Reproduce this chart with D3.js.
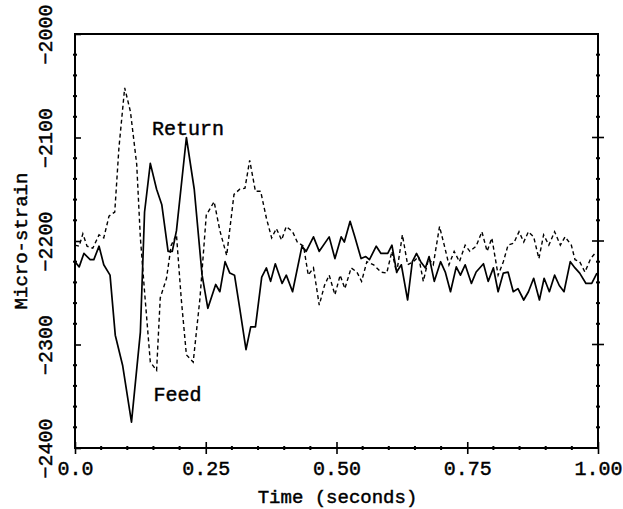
<!DOCTYPE html>
<html>
<head>
<meta charset="utf-8">
<script src="https://cdn.jsdelivr.net/npm/d3@7"></script>
<style>
  html, body { margin: 0; padding: 0; background: #fff; }
  svg text { font-family: "Liberation Mono", "DejaVu Sans Mono", monospace; fill: #000; stroke: #000; stroke-width: 0.45px; }
</style>
</head>
<body>
<div id="chart"></div>
<script>
// Strain records (time in seconds, micro-strain)
const feedTime = [0, 0.008, 0.017, 0.029, 0.036, 0.046, 0.055, 0.067, 0.077, 0.091, 0.108, 0.125, 0.133, 0.144, 0.156, 0.166, 0.178, 0.186, 0.194, 0.213, 0.228, 0.243, 0.254, 0.269, 0.277, 0.287, 0.296, 0.305, 0.315, 0.327, 0.336, 0.345, 0.357, 0.366, 0.374, 0.383, 0.396, 0.404, 0.416, 0.434, 0.442, 0.456, 0.467, 0.486, 0.497, 0.509, 0.515, 0.526, 0.535, 0.547, 0.556, 0.563, 0.576, 0.585, 0.598, 0.606, 0.615, 0.624, 0.636, 0.645, 0.653, 0.661, 0.670, 0.677, 0.687, 0.699, 0.708, 0.718, 0.729, 0.737, 0.746, 0.758, 0.767, 0.781, 0.790, 0.800, 0.809, 0.819, 0.828, 0.838, 0.847, 0.858, 0.867, 0.877, 0.888, 0.897, 0.907, 0.917, 0.926, 0.935, 0.947, 0.956, 0.965, 0.977, 0.988, 0.998];
const feedStrain = [-2220, -2225, -2212, -2218, -2218, -2205, -2223, -2233, -2291, -2320, -2375, -2288, -2172, -2125, -2150, -2165, -2210, -2210, -2190, -2100, -2150, -2233, -2265, -2242, -2249, -2220, -2231, -2233, -2265, -2305, -2283, -2283, -2235, -2226, -2239, -2222, -2241, -2233, -2249, -2205, -2210, -2196, -2210, -2196, -2217, -2196, -2201, -2181, -2196, -2217, -2215, -2218, -2205, -2212, -2212, -2204, -2230, -2223, -2257, -2220, -2212, -2220, -2226, -2215, -2239, -2220, -2230, -2249, -2225, -2233, -2223, -2241, -2230, -2222, -2239, -2226, -2249, -2231, -2230, -2249, -2246, -2257, -2249, -2236, -2257, -2236, -2249, -2233, -2243, -2249, -2220, -2226, -2231, -2241, -2241, -2231];

const returnTime = [0, 0.008, 0.015, 0.023, 0.034, 0.046, 0.055, 0.065, 0.076, 0.084, 0.095, 0.106, 0.118, 0.125, 0.133, 0.144, 0.156, 0.163, 0.175, 0.184, 0.194, 0.203, 0.213, 0.226, 0.239, 0.251, 0.266, 0.277, 0.290, 0.304, 0.315, 0.325, 0.334, 0.345, 0.355, 0.366, 0.376, 0.385, 0.395, 0.404, 0.416, 0.425, 0.437, 0.446, 0.456, 0.467, 0.477, 0.486, 0.497, 0.507, 0.516, 0.528, 0.539, 0.548, 0.558, 0.571, 0.585, 0.596, 0.606, 0.615, 0.626, 0.636, 0.647, 0.657, 0.666, 0.676, 0.685, 0.697, 0.706, 0.715, 0.725, 0.735, 0.746, 0.755, 0.767, 0.778, 0.788, 0.797, 0.809, 0.819, 0.828, 0.839, 0.849, 0.858, 0.867, 0.877, 0.887, 0.896, 0.906, 0.917, 0.928, 0.937, 0.949, 0.956, 0.965, 0.975, 0.986, 0.994];
const returnStrain = [-2204, -2205, -2193, -2205, -2207, -2194, -2197, -2176, -2172, -2110, -2052, -2075, -2126, -2197, -2249, -2317, -2325, -2255, -2236, -2204, -2194, -2255, -2310, -2317, -2255, -2175, -2162, -2190, -2214, -2155, -2150, -2149, -2122, -2152, -2152, -2178, -2197, -2188, -2199, -2186, -2191, -2201, -2205, -2233, -2226, -2262, -2243, -2233, -2252, -2233, -2246, -2226, -2230, -2239, -2220, -2223, -2230, -2231, -2210, -2231, -2194, -2223, -2220, -2215, -2239, -2217, -2223, -2186, -2204, -2223, -2210, -2220, -2204, -2210, -2205, -2191, -2210, -2197, -2233, -2220, -2204, -2202, -2191, -2201, -2191, -2196, -2217, -2194, -2204, -2191, -2204, -2196, -2204, -2218, -2220, -2230, -2217, -2212];

const xTicks = [0, 0.25, 0.5, 0.75, 1.0];
const xTickLabels = ["0.0", "0.25", "0.50", "0.75", "1.00"];
const yTicks = [-2400, -2300, -2200, -2100, -2000];

const width = 623, height = 509;
const margin = { top: 34, right: 25, bottom: 61, left: 75 };
const fontSize = 19;

const svg = d3.select('#chart').append('svg')
    .attr('width', width)
    .attr('height', height);

const x = d3.scaleLinear().domain([0, 1]).range([margin.left, width - margin.right]);
const y = d3.scaleLinear().domain([-2400, -2000]).range([height - margin.bottom, margin.top]);

// Minor tick positions
const xMinor = d3.range(0, 1.0001, 0.05).filter(v => !xTicks.some(t => Math.abs(t - v) < 1e-6));
const yMinor = d3.range(-2400, -1999, 20).filter(v => v % 100 !== 0);

// Frame
svg.append('rect')
    .attr('x', x(0)).attr('y', y(-2000))
    .attr('width', x(1) - x(0)).attr('height', y(-2400) - y(-2000))
    .attr('fill', 'none').attr('stroke', '#000').attr('stroke-width', 2);

// Bottom axis
const gx = svg.append('g')
    .attr('transform', `translate(0,${y(-2400)})`)
    .call(d3.axisBottom(x).tickValues(xTicks).tickFormat((d, i) => xTickLabels[i]).tickSizeInner(6).tickSizeOuter(0).tickPadding(7));
gx.select('.domain').remove();
gx.selectAll('.tick line').attr('y1', -6).attr('stroke-width', 1.6);
gx.selectAll('.tick text').attr('font-size', fontSize + 1).attr('font-family', null);
gx.append('g').selectAll('line').data(xMinor).join('line')
    .attr('x1', d => x(d)).attr('x2', d => x(d))
    .attr('y1', -2).attr('y2', 2)
    .attr('stroke', '#000').attr('stroke-width', 2);

// Left axis
const gy = svg.append('g')
    .attr('transform', `translate(${x(0)},0)`)
    .call(d3.axisLeft(y).tickValues(yTicks).tickFormat(d3.format('d')).tickSizeInner(6).tickSizeOuter(0).tickPadding(0));
gy.select('.domain').remove();
gy.selectAll('.tick line').attr('x2', 6).attr('stroke-width', 1.6);
gy.selectAll('.tick text')
    .attr('font-size', fontSize + 1)
    .attr('font-family', null)
    .attr('text-anchor', 'middle')
    .attr('x', 0).attr('dy', 0)
    .attr('transform', 'translate(-23,0) rotate(-90)')
    .text(d => '\u2212' + Math.abs(d));
gy.append('g').selectAll('line').data(yMinor).join('line')
    .attr('y1', d => y(d)).attr('y2', d => y(d))
    .attr('x1', -2).attr('x2', 2)
    .attr('stroke', '#000').attr('stroke-width', 2);

// Right axis ticks
const gr = svg.append('g').attr('transform', `translate(${x(1)},0)`);
gr.selectAll('line.major').data(yTicks.slice(1, 4)).join('line')
    .attr('class', 'major')
    .attr('y1', d => y(d)).attr('y2', d => y(d))
    .attr('x1', -6).attr('x2', 6)
    .attr('stroke', '#000').attr('stroke-width', 1.6);
gr.selectAll('line.minor').data(yMinor).join('line')
    .attr('class', 'minor')
    .attr('y1', d => y(d)).attr('y2', d => y(d))
    .attr('x1', -2).attr('x2', 2)
    .attr('stroke', '#000').attr('stroke-width', 2);

// Axis titles
svg.append('text')
    .attr('x', (x(0) + x(1)) / 2 + 1).attr('y', 503)
    .attr('text-anchor', 'middle').attr('font-size', fontSize)
    .text('Time (seconds)');
svg.append('text')
    .attr('transform', `translate(27,${(y(-2000) + y(-2400)) / 2}) rotate(-90)`)
    .attr('text-anchor', 'middle').attr('font-size', fontSize)
    .text('Micro-strain');

// Series
const line = d3.line().x(d => x(d[0])).y(d => y(d[1]));
const feed = feedTime.map((t, i) => [t, feedStrain[i]]);
const ret = returnTime.map((t, i) => [t, returnStrain[i]]);

svg.append('path').datum(ret)
    .attr('d', line)
    .attr('fill', 'none').attr('stroke', '#000')
    .attr('stroke-width', 1.4).attr('stroke-dasharray', '4,3');
svg.append('path').datum(feed)
    .attr('d', line)
    .attr('fill', 'none').attr('stroke', '#000')
    .attr('stroke-width', 1.7).attr('stroke-linejoin', 'round');

// Series labels
svg.append('text').attr('x', x(0.147)).attr('y', y(-2098)).attr('font-size', fontSize + 1).text('Return');
svg.append('text').attr('x', x(0.15)).attr('y', y(-2355)).attr('font-size', fontSize + 1).text('Feed');
</script>
</body>
</html>
